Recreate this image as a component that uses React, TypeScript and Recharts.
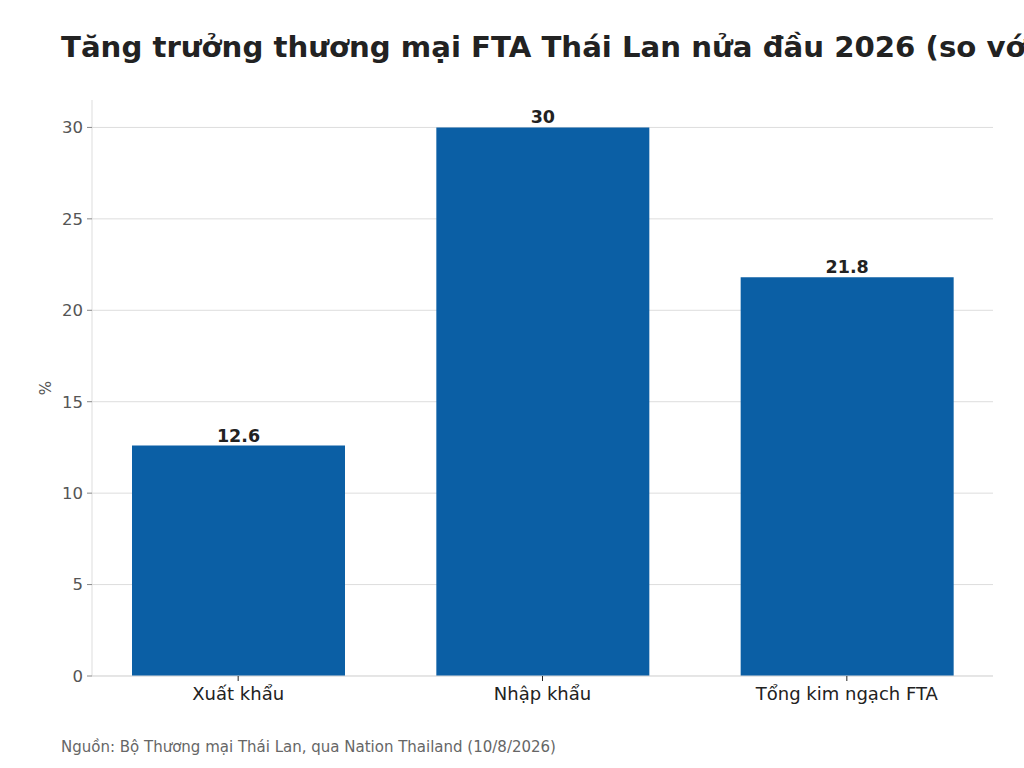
import { BarChart, Bar, XAxis, YAxis, CartesianGrid, LabelList } from 'recharts';

const categories = ['Xuất khẩu', 'Nhập khẩu', 'Tổng kim ngạch FTA'];
const growth = [12.6, 30, 21.8];
const yTicks = [0, 5, 10, 15, 20, 25, 30];

const data = categories.map((name, i) => ({ name, value: growth[i] }));

const font = '"DejaVu Sans", sans-serif';

export default function App() {
  return (
    <div
      style={{
        position: 'absolute',
        left: 0,
        top: 0,
        width: 1024,
        height: 768,
        overflow: 'hidden',
        background: '#fff',
        fontFamily: font,
      }}
    >
      {/* tiêu đề */}
      <div
        style={{
          position: 'absolute',
          left: 61,
          top: 30,
          fontSize: 29.2,
          fontWeight: 'bold',
          color: '#222',
          whiteSpace: 'nowrap',
        }}
      >
        Tăng trưởng thương mại FTA Thái Lan nửa đầu 2026 (so với cùng kỳ)
      </div>

      <BarChart
        width={1024}
        height={768}
        data={data}
        margin={{ top: 100, right: 31, bottom: 62, left: 0 }}
      >
        {/* lưới ngang chỉ tại các vạch trục Y */}
        <CartesianGrid vertical={false} stroke="#dddddd" syncWithTicks />
        <XAxis
          dataKey="name"
          height={30}
          padding={{ left: -6, right: -6 }}
          axisLine={{ stroke: '#dddddd' }}
          tickLine={{ stroke: '#222' }}
          tickSize={5}
          tickMargin={6}
          tick={{ fill: '#222', fontSize: 18, fontFamily: font }}
        />
        <YAxis
          width={92}
          domain={[0, 31.5]}
          ticks={yTicks}
          axisLine={{ stroke: '#dddddd' }}
          tickLine={{ stroke: '#888' }}
          tickSize={5}
          tickMargin={4}
          tick={{ fill: '#555', fontSize: 16.5, fontFamily: font }}
          label={{
            value: '%',
            angle: -90,
            position: 'insideLeft',
            offset: 46,
            style: { fill: '#555', fontSize: 15, fontFamily: font, textAnchor: 'middle' },
          }}
        />
        <Bar dataKey="value" fill="#0b5fa5" barSize={213} isAnimationActive={false}>
          <LabelList
            dataKey="value"
            position="top"
            offset={4}
            style={{ fill: '#222', fontSize: 17.5, fontWeight: 'bold', fontFamily: font }}
          />
        </Bar>
      </BarChart>

      {/* nguồn */}
      <div
        style={{
          position: 'absolute',
          left: 61,
          top: 738,
          fontSize: 15,
          color: '#666',
          whiteSpace: 'nowrap',
        }}
      >
        Nguồn: Bộ Thương mại Thái Lan, qua Nation Thailand (10/8/2026)
      </div>
    </div>
  );
}
